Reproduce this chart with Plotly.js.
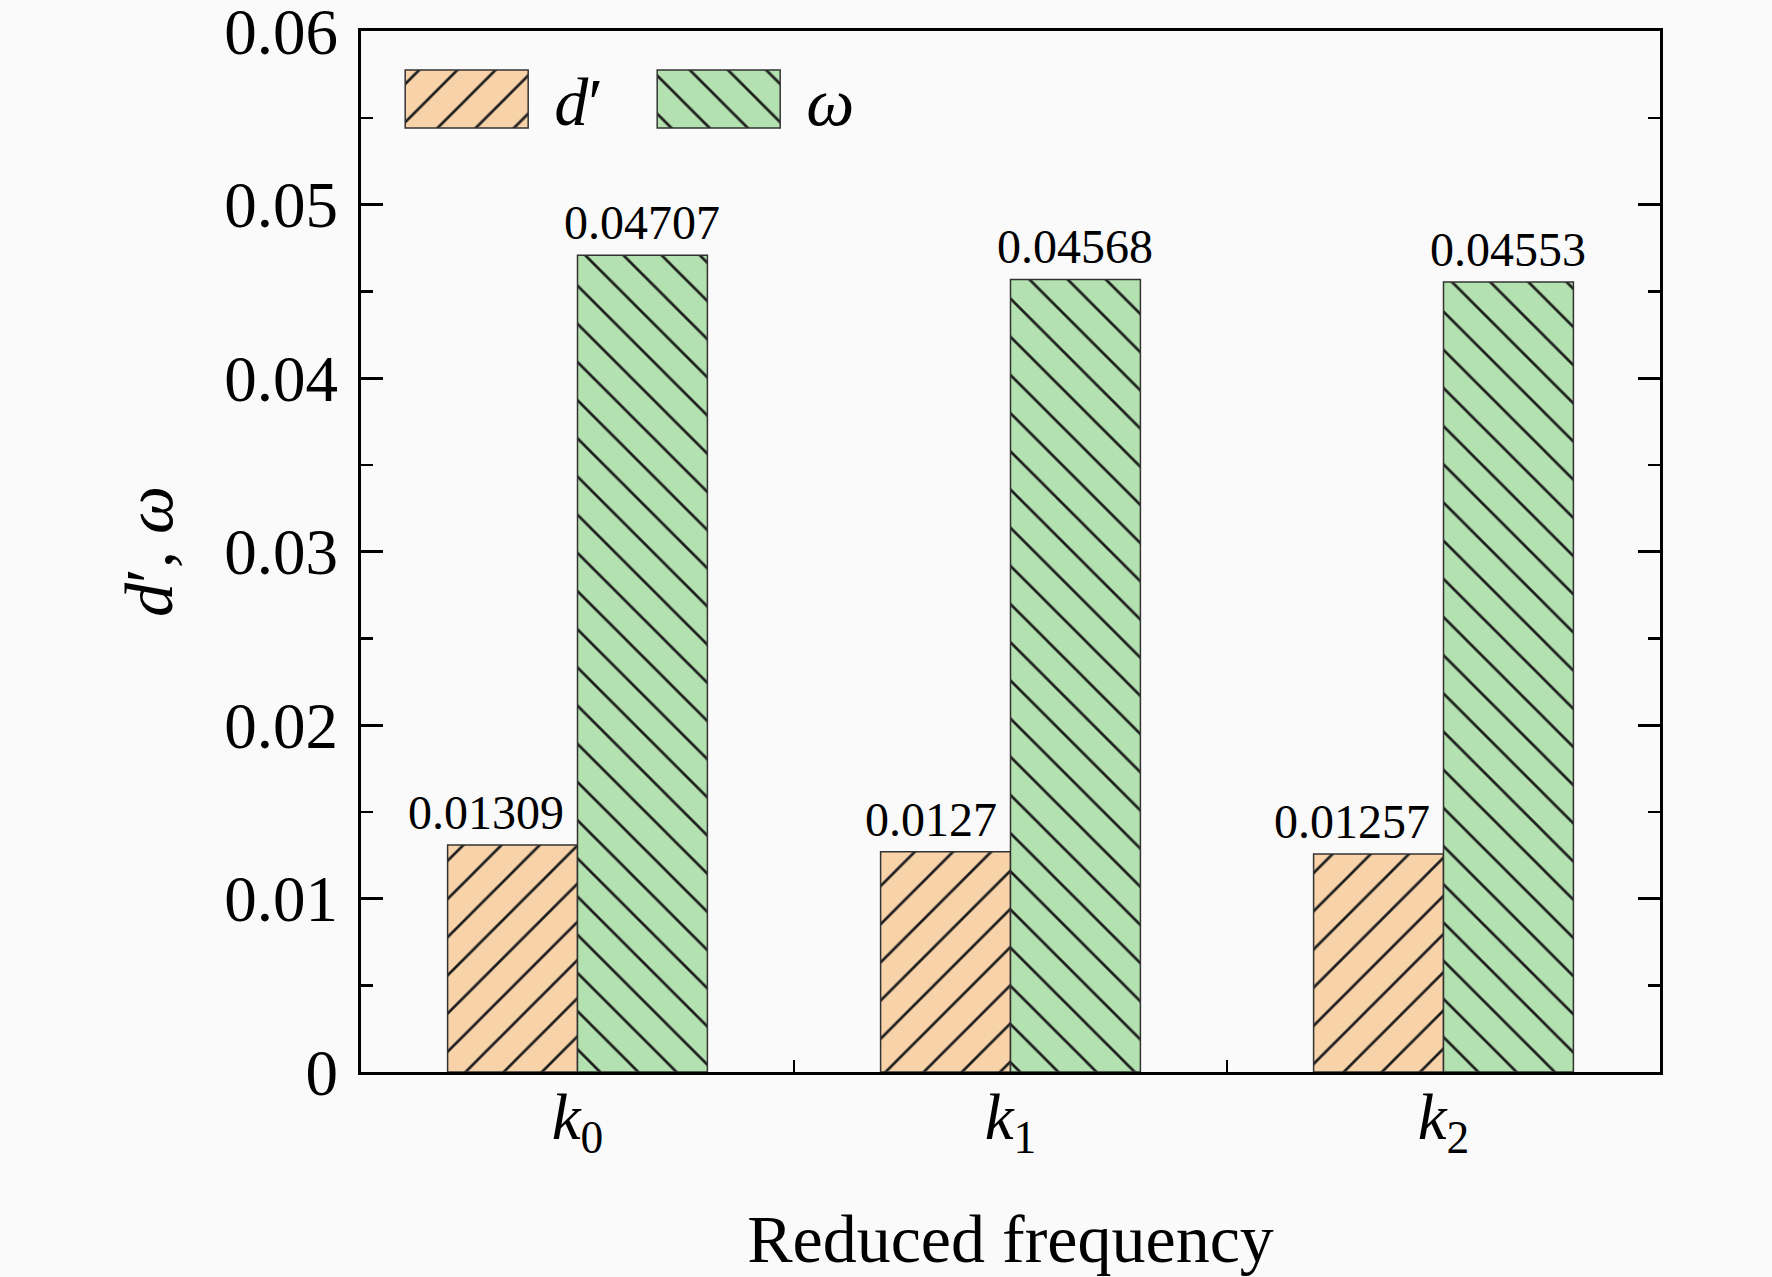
<!DOCTYPE html>
<html>
<head>
<meta charset="utf-8">
<script src="https://cdn.plot.ly/plotly-3.0.1.min.js"></script>
<style>
  html, body { margin: 0; padding: 0; background: #fafafa; }
  #grafica { width: 1772px; height: 1277px; }
</style>
</head>
<body>
<div id="grafica"></div>
<script>
// Datos
const categorias = ["k0", "k1", "k2"];
const etiquetasX = ["<i>k</i><sub>0</sub>", "<i>k</i><sub>1</sub>", "<i>k</i><sub>2</sub>"];
const valoresD = [0.01309, 0.0127, 0.01257];
const valoresOmega = [0.04707, 0.04568, 0.04553];
const textosD = ["0.01309", "0.0127", "0.01257"];
const textosOmega = ["0.04707", "0.04568", "0.04553"];
const ticksY = [0, 0.01, 0.02, 0.03, 0.04, 0.05, 0.06];
const textosTicksY = ["0", "0.01", "0.02", "0.03", "0.04", "0.05", "0.06"];

const fuente = "Liberation Serif, Times New Roman, serif";
const colorD = "#f8d3aa";
const colorOmega = "#b3e1af";

const margen = { l: 361, r: 112, t: 31, b: 205 };
const anchoPlot = 1772 - margen.l - margen.r;
const anchoCategoria = anchoPlot / categorias.length;
const bargap = 0.4;
const desplazamientoOmega = (1 - bargap) / 4 * anchoCategoria;

const crearBarra = (nombre, valores, color, forma) => ({
  type: "bar",
  name: nombre,
  x: categorias,
  y: valores,
  hoverinfo: "skip",
  marker: {
    color: color,
    line: { color: "#333333", width: 1.5 },
    pattern: {
      shape: forma,
      fgcolor: "#1e1e1e",
      bgcolor: color,
      size: 27,
      solidity: 0.1
    }
  }
});

const trazas = [
  crearBarra("<i>d</i>′", valoresD, colorD, "/"),
  crearBarra("<i>ω</i>", valoresOmega, colorOmega, "\\")
];

const fuenteEtiqueta = { family: fuente, size: 48, color: "black" };
const anotaciones = [];
categorias.forEach((c, i) => {
  anotaciones.push({
    x: c, y: valoresD[i], text: textosD[i],
    xanchor: "right", yanchor: "bottom", xshift: -12, yshift: 4,
    showarrow: false, font: fuenteEtiqueta
  });
  anotaciones.push({
    x: c, y: valoresOmega[i], text: textosOmega[i],
    xanchor: "center", yanchor: "bottom", xshift: desplazamientoOmega, yshift: 4,
    showarrow: false, font: fuenteEtiqueta
  });
});

const layout = {
  width: 1772,
  height: 1277,
  margin: margen,
  paper_bgcolor: "#fafafa",
  plot_bgcolor: "#fafafa",
  font: { family: fuente, size: 65, color: "black" },
  barmode: "group",
  bargap: bargap,
  bargroupgap: 0,
  showlegend: true,
  legend: {
    orientation: "h",
    x: 0.014,
    y: 0.9835,
    xanchor: "left",
    yanchor: "top",
    bgcolor: "rgba(0,0,0,0)",
    itemwidth: 165,
    entrywidth: 72,
    font: { family: fuente, size: 68, color: "black" }
  },
  xaxis: {
    type: "category",
    range: [-0.5, 2.5],
    tickvals: categorias,
    ticktext: etiquetasX,
    tickson: "boundaries",
    ticks: "inside",
    ticklen: 12,
    tickwidth: 2.5,
    tickcolor: "black",
    ticklabelstandoff: -14,
    tickfont: { family: fuente, size: 65 },
    showline: true,
    linewidth: 3,
    linecolor: "black",
    mirror: true,
    showgrid: false,
    zeroline: false,
    title: { text: "Reduced frequency", font: { family: fuente, size: 68 }, standoff: 70 }
  },
  yaxis: {
    range: [0, 0.06],
    tickvals: ticksY,
    ticktext: textosTicksY,
    ticks: "inside",
    ticklen: 22,
    tickwidth: 3,
    tickcolor: "black",
    ticklabelstandoff: 7,
    ticklabeloverflow: "allow",
    tickfont: { family: fuente, size: 65 },
    minor: { ticks: "inside", dtick: 0.005, tick0: 0, ticklen: 12, tickwidth: 2.5, tickcolor: "black", showgrid: false },
    showline: true,
    linewidth: 3,
    linecolor: "black",
    mirror: "ticks",
    showgrid: false,
    zeroline: false,
    title: { text: "<i>d</i>′, <i>ω</i>", font: { family: fuente, size: 68 }, standoff: 30 }
  },
  annotations: anotaciones
};

Plotly.newPlot("grafica", trazas, layout, { staticPlot: true }).then(() => {
  // agrandar los cuadros de la leyenda y usar el mismo rayado que las barras
  const barras = document.querySelectorAll("#grafica .barlayer .trace");
  const items = document.querySelectorAll("#grafica .legend .traces");
  items.forEach((item, i) => {
    const cuadro = item.querySelector(".legendpoints path");
    if (!cuadro) return;
    cuadro.setAttribute("d", "M61.5,29H-61.5V-29H61.5Z");
    cuadro.style.strokeWidth = "1.5px";
    const barra = barras[i] && barras[i].querySelector(".point path");
    if (barra) cuadro.style.fill = barra.style.fill;
  });
});
</script>
</body>
</html>
